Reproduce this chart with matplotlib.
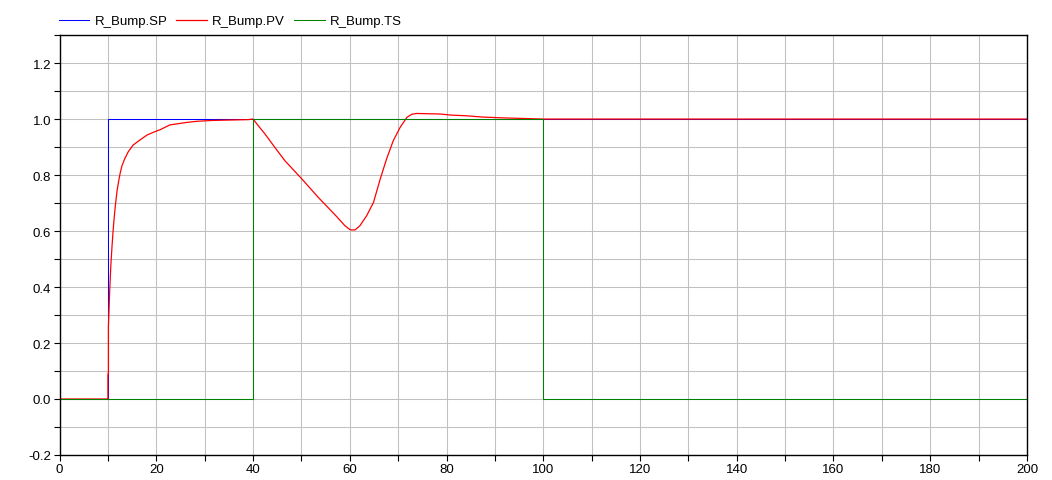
import matplotlib
matplotlib.use("Agg")
import matplotlib.pyplot as plt
from matplotlib.ticker import MultipleLocator

plt.rcParams['font.family'] = ['Liberation Sans', 'DejaVu Sans']

# setpoint (step at t=10)
t_sp = [0, 10, 10, 200]
sp = [0, 0, 1, 1]

# tracking switch
t_ts = [0, 40, 40, 100, 100, 200]
ts = [0, 0, 1, 1, 0, 0]

# process value
t_pv = [0, 10, 10, 10.1, 10.1, 10.37, 10.6, 10.85, 11.06, 11.27, 11.47, 11.68,
        11.89, 12.24, 12.5, 12.9, 13.5, 14.2, 15.2, 16.6, 18.1, 19.7, 20.8,
        22.8, 26.3, 28.4, 31.5, 39.0, 40.0,
        41.1, 42.5, 44.5, 46.6, 50.1, 53.5, 57.0, 59.0, 60.05, 60.4, 61.1,
        62.1, 63.5, 64.9, 66.3, 67.6, 69.0, 70.4, 71.8, 72.8, 73.8, 78.7,
        81.1, 83.8, 87.6, 92.1, 100.0, 200.0]
pv = [0, 0, 0.089, 0.089, 0.257, 0.387, 0.476, 0.546, 0.598, 0.643, 0.679, 0.712,
      0.744, 0.78, 0.804, 0.833, 0.859, 0.883, 0.907, 0.925, 0.943, 0.955, 0.962,
      0.979, 0.988, 0.992, 0.995, 0.998, 1.0,
      0.976, 0.946, 0.899, 0.851, 0.786, 0.72, 0.657, 0.619, 0.605, 0.604, 0.604,
      0.619, 0.655, 0.702, 0.786, 0.857, 0.923, 0.970, 1.006, 1.017, 1.02, 1.018,
      1.014, 1.012, 1.007, 1.004, 1.0, 1.0]

fig = plt.figure(figsize=(10.52, 4.81), dpi=100)
ax = fig.add_axes([0.0566, 0.052, 0.9196, 0.873])

ax.plot(t_sp, sp, color='#0000ff', lw=0.75, label='R_Bump.SP')
ax.plot(t_pv, pv, color='#ff0000', lw=0.9, label='R_Bump.PV')
ax.plot(t_ts, ts, color='#008000', lw=0.75, label='R_Bump.TS')

ax.set_xlim(0, 200)
ax.set_ylim(-0.2, 1.3)
ax.xaxis.set_major_locator(MultipleLocator(20))
ax.xaxis.set_minor_locator(MultipleLocator(10))
ax.yaxis.set_major_locator(MultipleLocator(0.2))
ax.yaxis.set_minor_locator(MultipleLocator(0.1))
ax.yaxis.set_major_formatter(plt.FuncFormatter(lambda v, p: f'{v:.1f}'))
ax.grid(True, which='both', color='#c0c0c0', lw=0.75)
ax.set_axisbelow(True)
ax.tick_params(which='both', direction='out', length=4, width=0.8,
               labelsize=9.5, pad=2, colors='black')
for s in ax.spines.values():
    s.set_linewidth(1.0)

ax.legend(loc='lower left', bbox_to_anchor=(-0.009, 1.0), ncol=3, frameon=False,
          fontsize=9.5, handlelength=2.3, handletextpad=0.4, columnspacing=0.7,
          borderaxespad=0.2)

fig.savefig('out.png', dpi=100)
